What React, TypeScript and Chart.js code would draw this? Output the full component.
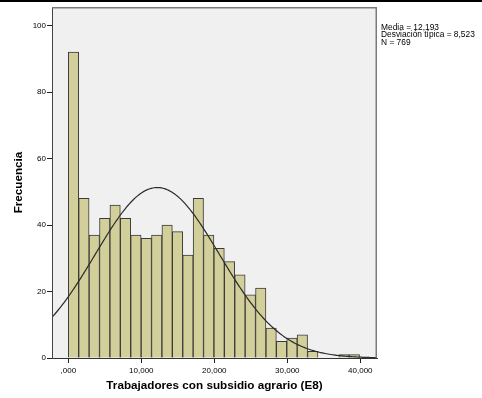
import React, { useEffect, useRef } from 'react';
import { Chart, registerables } from 'chart.js';

Chart.register(...registerables);

// ---- data ----
const BIN_WIDTH = 1425;
const COUNTS = [92, 48, 37, 42, 46, 42, 37, 36, 37, 40, 38, 31, 48, 37, 33, 29, 25, 19, 21, 9, 5, 6, 7, 2, 0, 0, 1, 1];
const X_TICKS = [0, 10000, 20000, 30000, 40000];
const X_TICK_LABELS = [',000', '10,000', '20,000', '30,000', '40,000'];
const Y_TICKS = [0, 20, 40, 60, 80, 100];
const MEAN = 12193;
const SD = 8523;
const N = 769;
const STATS_LINES = ['Media = 12,193', 'Desviación típica = 8,523', 'N = 769'];
const X_TITLE = 'Trabajadores con subsidio agrario (E8)';
const Y_TITLE = 'Frecuencia';
const X_MIN = -2233;
const X_MAX = 42288;
const Y_MAX = 105.6;

const FONT = '"Liberation Sans", Arial, sans-serif';

const barData = COUNTS.map((c, i) => ({ x: (i + 0.5) * BIN_WIDTH, y: c === 0 ? null : c }));

// fitted normal curve from the stated mean / sd / N
const curveData: { x: number; y: number }[] = [];
{
  const peak = (N * BIN_WIDTH) / (SD * Math.sqrt(2 * Math.PI));
  for (let x = X_MIN; x <= X_MAX + 1; x += 200) {
    const z = (x - MEAN) / SD;
    curveData.push({ x, y: peak * Math.exp(-0.5 * z * z) });
  }
}

const decor = {
  id: 'spssDecor',
  beforeDraw(chart: any) {
    const { ctx, chartArea: a, width, height } = chart;
    ctx.save();
    ctx.fillStyle = '#ffffff';
    ctx.fillRect(0, 0, width, height);
    ctx.fillStyle = '#f0f0f0';
    ctx.fillRect(a.left, a.top, a.right - a.left, a.bottom - a.top);
    ctx.fillStyle = '#000000';
    ctx.fillRect(0, 0, width, 2);
    ctx.restore();
  },
  afterDraw(chart: any) {
    const { ctx, chartArea: a } = chart;
    ctx.save();
    ctx.strokeStyle = '#7a7a7a';
    ctx.lineWidth = 1.5;
    ctx.beginPath();
    ctx.moveTo(a.left, a.top + 0.75);
    ctx.lineTo(a.right - 0.75, a.top + 0.75);
    ctx.lineTo(a.right - 0.75, a.bottom);
    ctx.stroke();

    ctx.fillStyle = '#000000';
    ctx.font = `8.4px ${FONT}`;
    ctx.textAlign = 'left';
    ctx.textBaseline = 'alphabetic';
    STATS_LINES.forEach((t, i) => ctx.fillText(t, a.right + 4, 30 + i * 7.4));

    ctx.font = `bold 11.7px ${FONT}`;
    ctx.textAlign = 'center';
    ctx.fillText(X_TITLE, (a.left + a.right) / 2, 388.5);

    ctx.translate(21.8, (a.top + a.bottom) / 2);
    ctx.rotate(-Math.PI / 2);
    ctx.fillText(Y_TITLE, 0, 0);
    ctx.restore();
  },
};

export default function App() {
  const ref = useRef<HTMLCanvasElement | null>(null);
  useEffect(() => {
    if (!ref.current) return;
    const chart = new Chart(ref.current, {
      type: 'bar',
      data: {
        datasets: [
          {
            type: 'line',
            label: 'Normal',
            data: curveData,
            borderColor: '#2a2a2a',
            borderWidth: 1.2,
            pointRadius: 0,
            tension: 0,
            fill: false,
            order: 0,
          } as any,
          {
            type: 'bar',
            label: 'Frecuencia',
            data: barData,
            backgroundColor: '#d3cf9b',
            borderColor: '#3a3a3a',
            borderWidth: 1,
            barPercentage: 1,
            categoryPercentage: 1,
            order: 1,
          } as any,
        ],
      },
      plugins: [decor],
      options: {
        responsive: false,
        animation: false,
        devicePixelRatio: 1,
        layout: { padding: { left: 0, right: 105, top: 7, bottom: 0 } },
        plugins: { legend: { display: false }, tooltip: { enabled: false }, title: { display: false } },
        scales: {
          x: {
            type: 'linear',
            min: X_MIN,
            max: X_MAX,
            offset: false,
            afterFit: (s: any) => { s.height = 40; },
            afterBuildTicks: (s: any) => { s.ticks = X_TICKS.map((v) => ({ value: v })); },
            grid: { display: true, offset: false, drawOnChartArea: false, drawTicks: true, tickLength: 5, color: '#222' },
            border: { display: true, color: '#333', width: 1, z: 1 },
            ticks: {
              autoSkip: false,
              maxRotation: 0,
              padding: 3,
              color: '#000',
              font: { family: FONT, size: 8 },
              callback: (v: any) => {
                const i = X_TICKS.indexOf(Number(v));
                return i >= 0 ? X_TICK_LABELS[i] : '';
              },
            },
          },
          y: {
            type: 'linear',
            min: 0,
            max: Y_MAX,
            afterFit: (s: any) => { s.width = 52; },
            afterBuildTicks: (s: any) => { s.ticks = Y_TICKS.map((v) => ({ value: v })); },
            grid: { display: true, drawOnChartArea: false, drawTicks: true, tickLength: 5, color: '#222' },
            border: { display: true, color: '#444', width: 1, z: 1 },
            ticks: {
              padding: 1,
              color: '#000',
              font: { family: FONT, size: 8 },
              callback: (v: any) => String(v),
            },
          },
        },
      },
    });
    return () => chart.destroy();
  }, []);
  return (
    <div style={{ position: 'absolute', left: 0, top: 0, width: 482, height: 398, background: '#fff' }}>
      <canvas ref={ref} width={482} height={398} />
    </div>
  );
}
